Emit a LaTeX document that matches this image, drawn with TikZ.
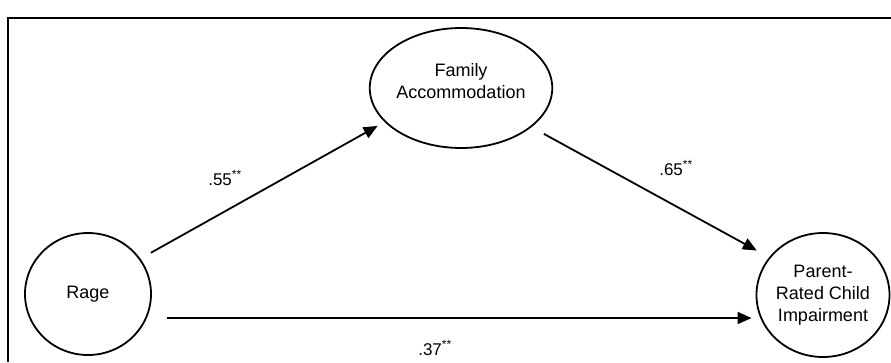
\documentclass[tikz,border=0pt]{standalone}
\usepackage{fontspec}
\setmainfont{Liberation Sans}
\usetikzlibrary{shapes.geometric,arrows.meta}

\begin{document}
\begin{tikzpicture}[x=1pt,y=-1pt]
\tikzstyle{var}=[draw=black,line width=1.8pt,ellipse,align=center,inner sep=0pt,font=\fontsize{18}{22}\selectfont]
\tikzstyle{arr}=[black,line width=1.8pt,-{Triangle[length=14pt,width=12pt]}]
\tikzstyle{coef}=[inner sep=0pt,font=\fontsize{17}{20}\selectfont]
\useasboundingbox (0,0) rectangle (891,362);
\draw [black,line width=1.8pt] (8,362) -- (8,18) -- (891,18);
\node [var,minimum width=126pt,minimum height=122pt] (rage) at (88,294) {Rage};
\node [var,minimum width=164pt,minimum height=120pt] (family) at (461,88) {Family\\Accommodation\\[-8pt]};
\node [var,minimum width=126pt,minimum height=124pt] (impair) at (823,295) {Parent-\\Rated Child\\Impairment};
\draw [arr,shorten <=12pt,shorten >=8pt] (rage.34) -- (family.204);
\node [coef] (b1) at (225,178) {.55\textsuperscript{**}};
\draw [arr,shorten <=14pt,shorten >=14pt] (family.331) -- (impair.145);
\node [coef] (b2) at (676,168) {.65\textsuperscript{**}};
\draw [arr,shorten <=15pt,shorten >=4pt] ([yshift=-24pt]rage.east) -- ([yshift=-24pt]rage.east -| impair.west);
\node [coef] (b3) at (435,348) {.37\textsuperscript{**}};
\end{tikzpicture}
\end{document}
